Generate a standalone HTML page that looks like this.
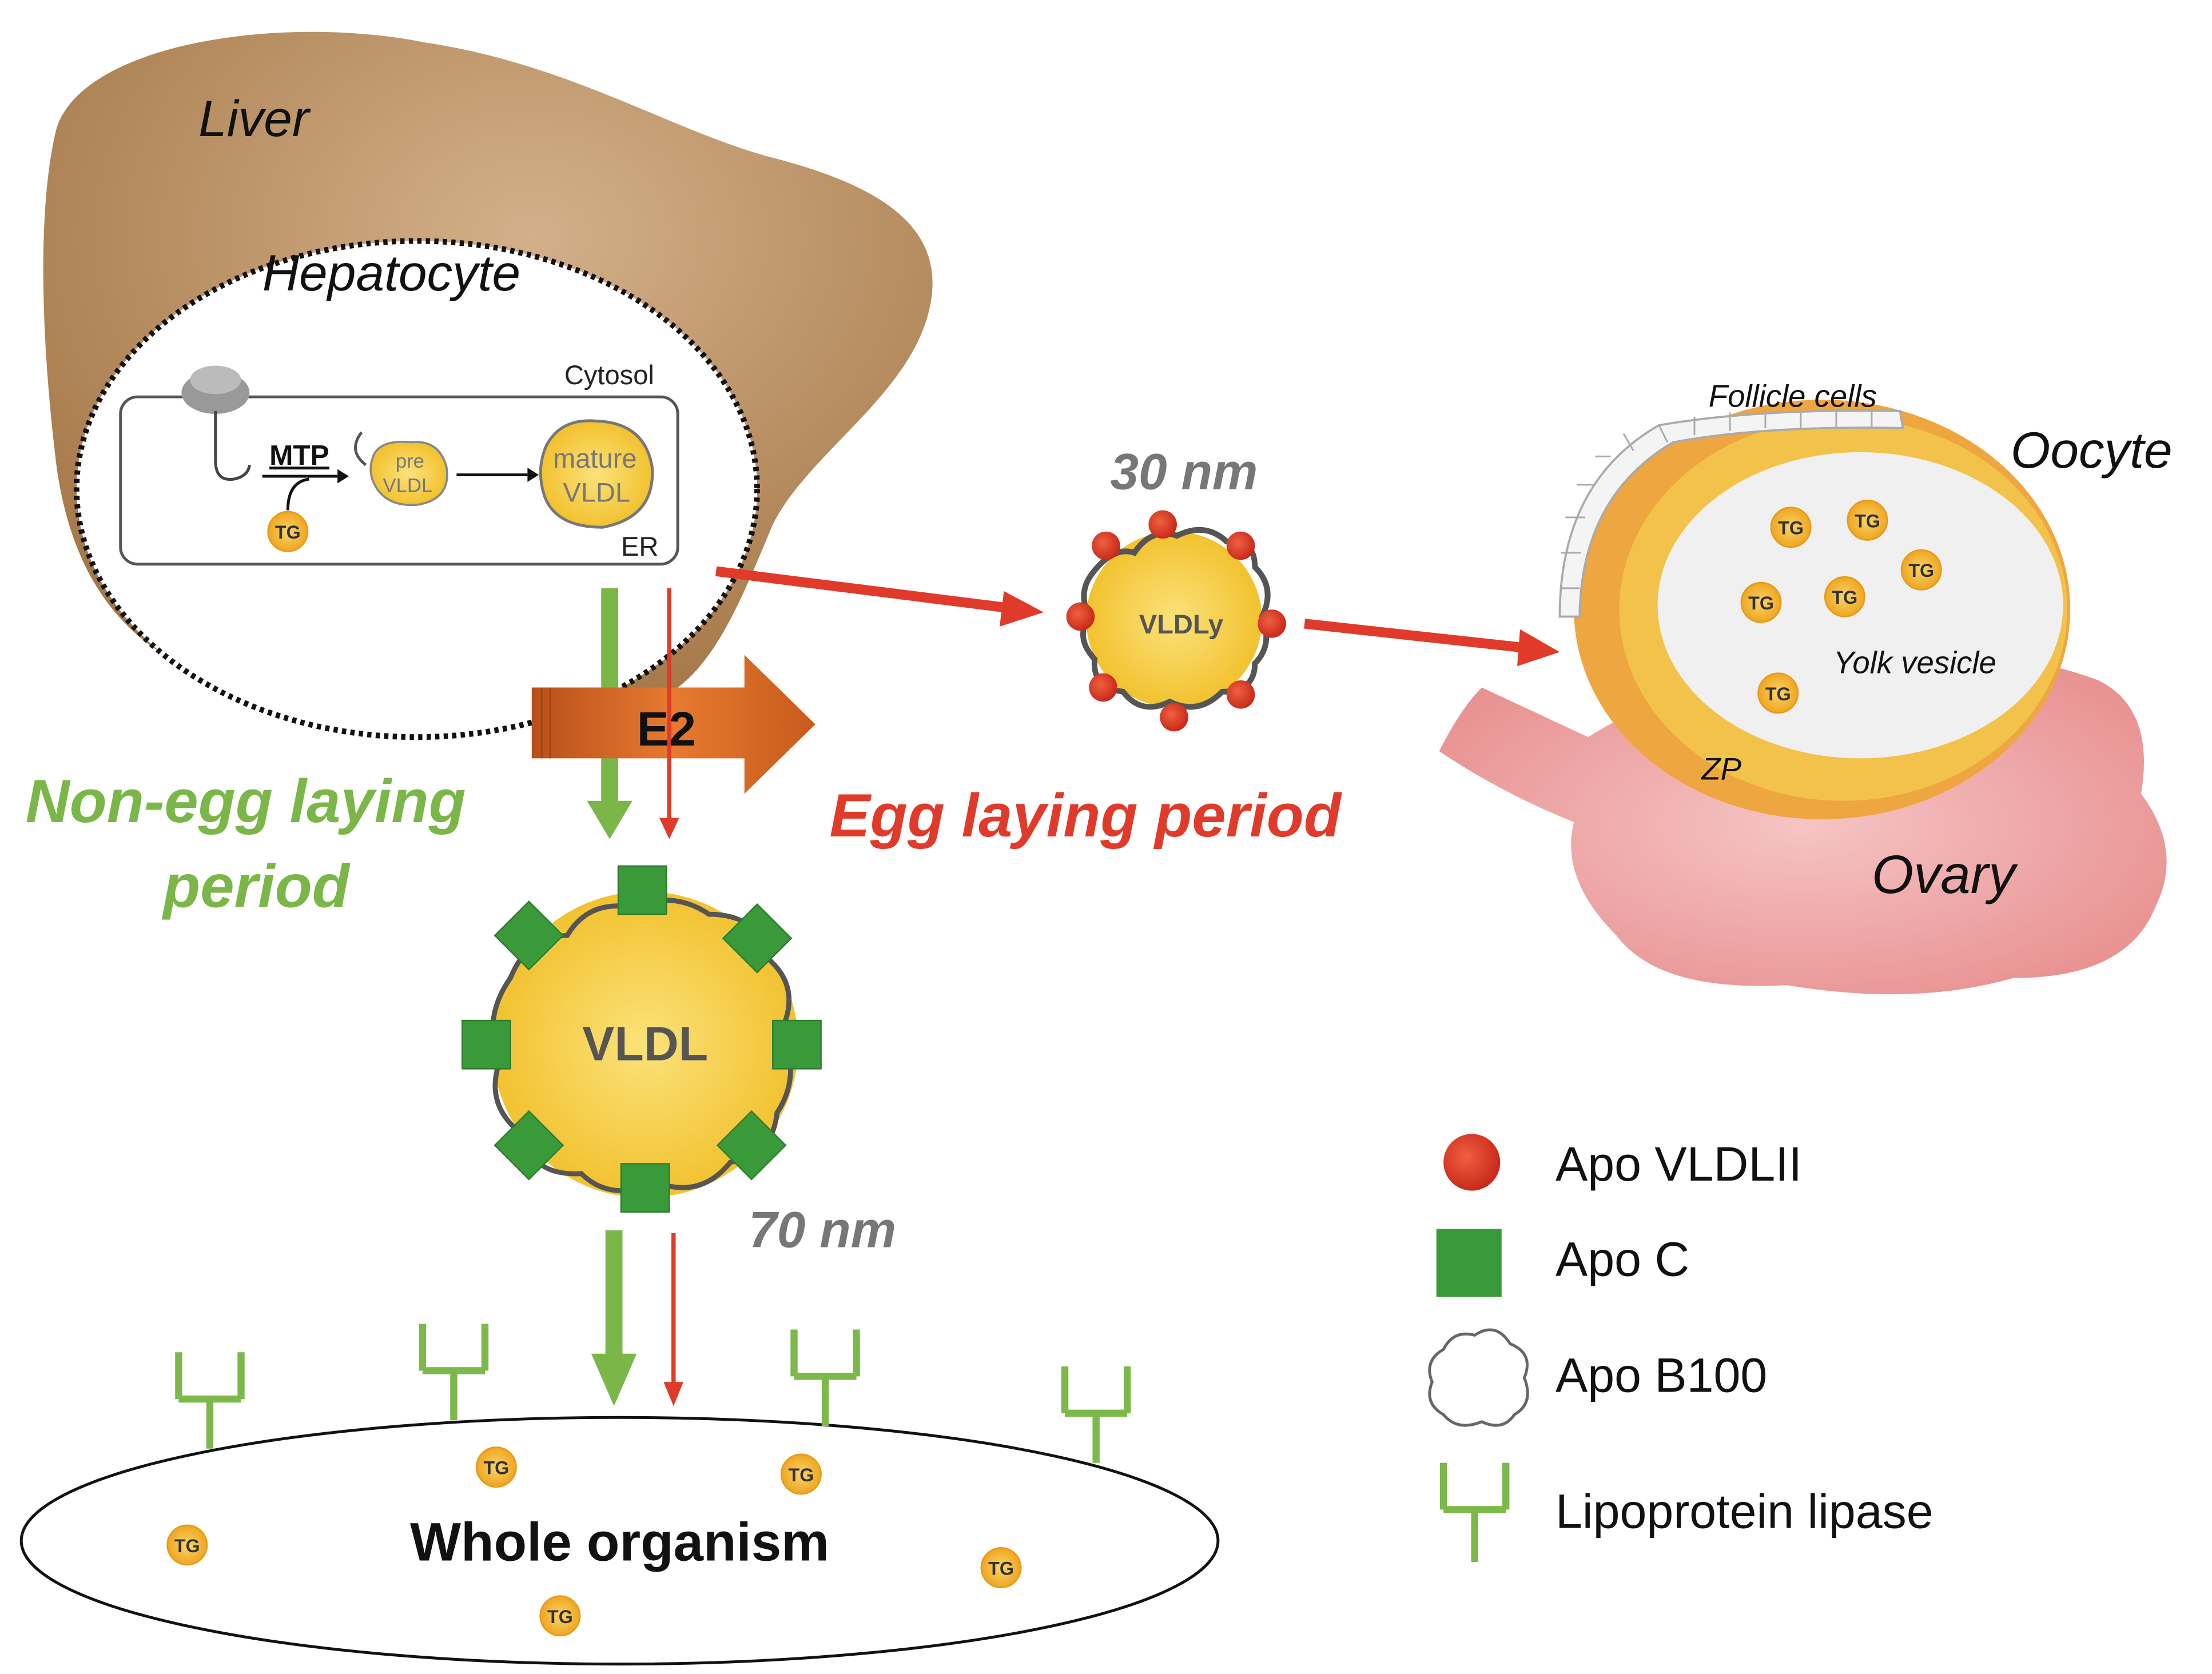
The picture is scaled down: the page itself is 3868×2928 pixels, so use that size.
<!DOCTYPE html>
<html><head><meta charset="utf-8"><style>html,body{margin:0;padding:0;background:#fff}svg{display:block}</style></head>
<body>
<svg width="3868" height="2928" viewBox="0 0 1560 1181" preserveAspectRatio="none" xmlns="http://www.w3.org/2000/svg" font-family="Liberation Sans, sans-serif">
<defs>
<radialGradient id="liv" cx="0.55" cy="0.3" r="0.7"><stop offset="0" stop-color="#d3b08a"/><stop offset="1" stop-color="#a57848"/></radialGradient>
<radialGradient id="yel" cx="0.5" cy="0.5" r="0.5"><stop offset="0" stop-color="#fbe27a"/><stop offset="1" stop-color="#f2c230"/></radialGradient>
<radialGradient id="tg" cx="0.5" cy="0.5" r="0.5"><stop offset="0" stop-color="#fbd46a"/><stop offset="1" stop-color="#eea620"/></radialGradient>
<radialGradient id="red" cx="0.4" cy="0.4" r="0.6"><stop offset="0" stop-color="#f06040"/><stop offset="1" stop-color="#c92a1a"/></radialGradient>
<linearGradient id="e2" x1="0" y1="0" x2="1" y2="0"><stop offset="0" stop-color="#b8501a"/><stop offset="0.5" stop-color="#e77a30"/><stop offset="1" stop-color="#c85a1c"/></linearGradient>
<radialGradient id="ov" cx="0.5" cy="0.5" r="0.6"><stop offset="0" stop-color="#f6c4c4"/><stop offset="1" stop-color="#e89090"/></radialGradient>
<g id="tgc"><circle r="14" fill="url(#tg)" stroke="#e59a1a"/><text y="5" text-anchor="middle" font-size="13" font-weight="bold" fill="#333">TG</text></g>
<g id="lip" fill="none" stroke="#7cb84a" stroke-width="5"><path d="M0,0 V-35 M-22,-35 H22 M-22,-35 V-68 M22,-35 V-68"/></g>
<g id="sq"><rect x="-17" y="-17" width="34" height="34" fill="#3a9a3a" stroke="#2d7d2d"/></g>
</defs>
<path d="M40,90 C60,30 200,10 300,30 C400,45 470,90 540,110 C620,130 670,160 655,220 C640,280 570,320 545,370 C520,430 500,480 460,495 C380,510 200,500 130,470 C80,445 50,400 40,330 C30,250 25,150 40,90 Z" fill="url(#liv)"/>
<text x="140" y="96" font-size="36" font-style="italic" fill="#111">Liver</text>
<ellipse cx="294" cy="345" rx="240" ry="175" fill="#fff" stroke="#111" stroke-width="4" stroke-dasharray="3,3"/>
<text x="185" y="205" font-size="36" font-style="italic" fill="#111">Hepatocyte</text>
<rect x="85" y="280" width="393" height="118" rx="12" fill="none" stroke="#555" stroke-width="2"/>
<text x="398" y="271" font-size="19" fill="#222">Cytosol</text>
<text x="438" y="392" font-size="19" fill="#222">ER</text>
<ellipse cx="152" cy="277" rx="24" ry="15" fill="#999"/>
<ellipse cx="152" cy="268" rx="18" ry="10" fill="#bbb"/>
<path d="M152,290 V325 Q152,340 165,338 Q175,336 176,328" fill="none" stroke="#444" stroke-width="2"/>
<text x="190" y="328" font-size="20" font-weight="bold" fill="#111" text-decoration="underline">MTP</text>
<path d="M185,336 H238" stroke="#111" stroke-width="2"/><path d="M238,331 L246,336 L238,341 Z" fill="#111"/>
<path d="M203,360 Q203,340 218,338" fill="none" stroke="#111" stroke-width="2"/>
<use href="#tgc" x="203" y="375"/>
<path d="M255,305 Q245,318 258,328" fill="none" stroke="#555" stroke-width="2"/>
<path d="M264,320 Q270,310 290,312 Q310,310 315,330 Q318,352 295,356 Q275,358 266,345 Q258,333 264,320 Z" fill="url(#yel)" stroke="#888" stroke-width="1.5"/>
<text x="279" y="330" font-size="14" fill="#777">pre</text><text x="270" y="347" font-size="14" fill="#777">VLDL</text>
<path d="M322,335 H372" stroke="#111" stroke-width="2"/><path d="M372,330 L380,335 L372,340 Z" fill="#111"/>
<path d="M385,315 Q395,295 420,297 Q455,298 460,330 Q462,365 425,372 Q392,372 384,350 Q378,332 385,315 Z" fill="url(#yel)" stroke="#777" stroke-width="2"/>
<text x="390" y="330" font-size="19" fill="#777">mature</text><text x="397" y="354" font-size="19" fill="#777">VLDL</text>
<path d="M430,415 V570" stroke="#7ab648" stroke-width="12"/><path d="M414,565 L430,592 L446,565 Z" fill="#7ab648"/>
<path d="M375,485 H525 V462 L575,511 L525,560 V535 H375 Z" fill="url(#e2)"/>
<path d="M382,485 V535 M388,485 V535" stroke="#a04010" stroke-width="1"/>
<path d="M472,415 V580" stroke="#e03a2a" stroke-width="3"/><path d="M465,577 L472,592 L479,577 Z" fill="#e03a2a"/>
<text x="470" y="526" font-size="34" font-weight="bold" fill="#111" text-anchor="middle">E2</text>
<path d="M505,403 L712,429" stroke="#e03a2a" stroke-width="7"/><path d="M708,417 L736,432 L705,442 Z" fill="#e03a2a"/>
<path d="M920,440 L1075,457" stroke="#e03a2a" stroke-width="7"/><path d="M1072,444 L1100,460 L1070,470 Z" fill="#e03a2a"/>
<circle cx="828" cy="437" r="62" fill="url(#yel)"/>
<path d="M770,405 Q785,385 800,390 Q812,372 830,378 Q850,368 865,382 Q885,380 885,400 Q900,415 890,435 Q898,455 885,468 Q885,488 862,488 Q845,505 825,495 Q805,505 792,488 Q770,485 772,465 Q758,450 768,435 Q760,418 770,405 Z" fill="none" stroke="#555" stroke-width="4"/>
<g fill="url(#red)"><circle cx="820" cy="370" r="10"/><circle cx="875" cy="385" r="10"/><circle cx="897" cy="440" r="10"/><circle cx="875" cy="490" r="10"/><circle cx="828" cy="506" r="10"/><circle cx="778" cy="485" r="10"/><circle cx="762" cy="435" r="10"/><circle cx="780" cy="385" r="10"/></g>
<text x="833" y="447" font-size="19" font-weight="bold" fill="#555" text-anchor="middle">VLDLy</text>
<text x="835" y="345" font-size="36" font-weight="bold" font-style="italic" fill="#777" text-anchor="middle">30 nm</text>
<path d="M1015,530 Q1030,500 1045,485 L1120,520 Q1200,470 1300,470 Q1400,450 1480,480 Q1520,500 1510,560 Q1540,600 1520,640 Q1500,690 1420,690 Q1350,710 1260,695 Q1170,700 1140,660 Q1100,620 1110,580 Q1060,560 1015,530 Z" fill="url(#ov)"/>
<ellipse cx="1285" cy="430" rx="175" ry="148" fill="#eea640"/>
<ellipse cx="1300" cy="430" rx="158" ry="135" fill="#f3c24a"/>
<ellipse cx="1312" cy="427" rx="143" ry="108" fill="#f0f0f0"/>
<path d="M1100,435 Q1100,340 1170,300 Q1240,288 1340,290 L1342,302 Q1245,300 1180,312 Q1115,350 1114,435 Z" fill="#f4f4f4" stroke="#aaa" stroke-width="1.5"/>
<g stroke="#aaa" stroke-width="1.2"><path d="M1100,415 H1114 M1101,390 H1115 M1104,365 H1118 M1112,342 H1125 M1125,322 H1136 M1145,306 L1152,318 M1170,300 L1176,312 M1195,294 V307 M1220,291 V304 M1245,290 V302 M1270,290 V302 M1295,290 V302 M1320,290 V302"/></g>
<text x="1205" y="287" font-size="22" font-style="italic" fill="#111">Follicle cells</text>
<text x="1418" y="330" font-size="36" font-style="italic" fill="#111">Oocyte</text>
<use href="#tgc" x="1263" y="372"/><use href="#tgc" x="1317" y="367"/><use href="#tgc" x="1355" y="402"/><use href="#tgc" x="1242" y="425"/><use href="#tgc" x="1301" y="421"/><use href="#tgc" x="1254" y="489"/>
<text x="1293" y="475" font-size="22" font-style="italic" fill="#111">Yolk vesicle</text>
<text x="1200" y="550" font-size="22" font-style="italic" fill="#111">ZP</text>
<text x="1320" y="630" font-size="38" font-style="italic" fill="#111">Ovary</text>
<g font-size="43" font-weight="bold" font-style="italic">
<text x="18" y="580" fill="#7ab648">Non-egg laying</text><text x="115" y="640" fill="#7ab648">period</text>
<text x="585" y="590" fill="#e03a2a">Egg laying period</text></g>
<circle cx="455" cy="737" r="108" fill="url(#yel)"/>
<path d="M360,690 Q372,660 400,660 Q415,635 445,640 Q475,628 500,645 Q535,645 540,675 Q565,695 552,725 Q565,760 548,785 Q545,815 515,820 Q495,845 465,835 Q430,848 410,828 Q375,830 368,800 Q342,780 352,750 Q340,718 360,690 Z" fill="none" stroke="#555" stroke-width="3.5"/>
<use href="#sq" x="453" y="628"/><use href="#sq" x="534" y="662" transform="rotate(45 534 662)"/><use href="#sq" x="562" y="737"/><use href="#sq" x="530" y="808" transform="rotate(45 530 808)"/><use href="#sq" x="455" y="838"/><use href="#sq" x="373" y="808" transform="rotate(45 373 808)"/><use href="#sq" x="343" y="737"/><use href="#sq" x="373" y="660" transform="rotate(45 373 660)"/>
<text x="455" y="748" font-size="34" font-weight="bold" fill="#555" text-anchor="middle">VLDL</text>
<text x="528" y="880" font-size="36" font-weight="bold" font-style="italic" fill="#777">70 nm</text>
<path d="M433,868 V960" stroke="#7ab648" stroke-width="12"/><path d="M417,955 L433,992 L449,955 Z" fill="#7ab648"/>
<path d="M475,870 V978" stroke="#e03a2a" stroke-width="3"/><path d="M468,975 L475,992 L482,975 Z" fill="#e03a2a"/>
<ellipse cx="437" cy="1087" rx="422" ry="87" fill="#fff" stroke="#111" stroke-width="2"/>
<text x="437" y="1101" font-size="38" font-weight="bold" fill="#111" text-anchor="middle">Whole organism</text>
<use href="#lip" x="148" y="1022"/><use href="#lip" x="320" y="1002"/><use href="#lip" x="582" y="1006"/><use href="#lip" x="773" y="1032"/>
<use href="#tgc" x="350" y="1035"/><use href="#tgc" x="565" y="1040"/><use href="#tgc" x="132" y="1090"/><use href="#tgc" x="706" y="1106"/><use href="#tgc" x="395" y="1140"/>
<circle cx="1038" cy="820" r="20" fill="url(#red)"/>
<rect x="1013" y="867" width="46" height="48" fill="#3a9a3a"/>
<path d="M1018,952 Q1025,938 1040,942 Q1055,932 1065,948 Q1082,955 1075,972 Q1082,990 1068,998 Q1060,1010 1045,1003 Q1028,1010 1018,998 Q1004,990 1010,975 Q1004,960 1018,952 Z" fill="none" stroke="#666" stroke-width="2"/>
<g fill="none" stroke="#7cb84a" stroke-width="5"><path d="M1040,1102 V1065 M1018,1065 H1062 M1018,1065 V1032 M1062,1065 V1032"/></g>
<g font-size="34" fill="#111"><text x="1097" y="833">Apo VLDLII</text><text x="1097" y="900">Apo C</text><text x="1097" y="982">Apo B100</text><text x="1097" y="1078">Lipoprotein lipase</text></g>
</svg>
</body></html>
